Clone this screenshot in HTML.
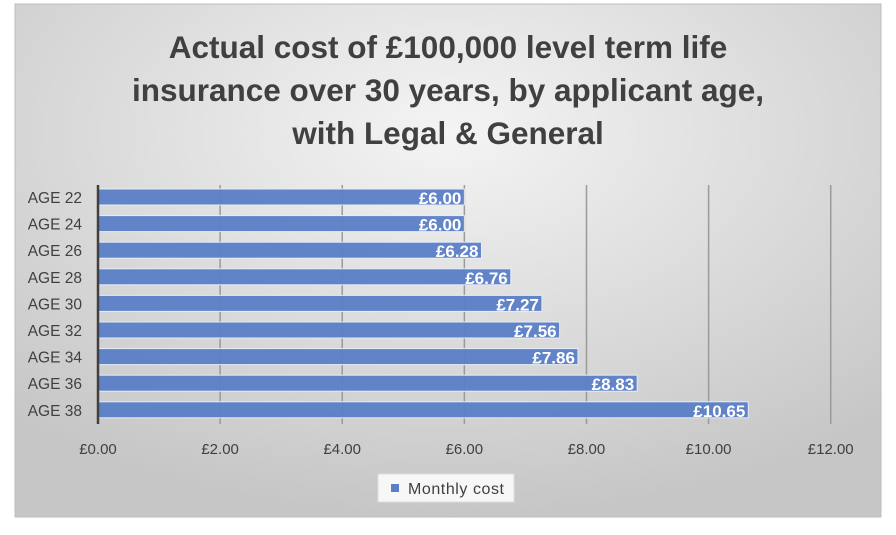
<!DOCTYPE html>
<html><head><meta charset="utf-8"><style>
body{margin:0;background:#fff;width:896px;height:530px;overflow:hidden}
svg text{font-family:"Liberation Sans",sans-serif}
</style></head><body>
<svg width="896" height="530">
<defs>
<radialGradient id="bg" cx="0.5" cy="0.25" r="0.75">
<stop offset="0" stop-color="#f4f4f4"/><stop offset="1" stop-color="#c6c6c6"/>
</radialGradient>
</defs>
<rect x="15" y="4" width="866" height="513" fill="url(#bg)" stroke="#bdbdbd"/>
<g font-weight="bold" font-size="31.5" fill="#404040" text-anchor="middle">
<text x="448" y="58">Actual cost of £100,000 level term life</text>
<text x="448" y="101">insurance over 30 years, by applicant age,</text>
<text x="448" y="144">with Legal &amp; General</text>
</g>
<g id="grid"></g><g id="bars"></g><g id="ylab"></g><g id="xlab"></g>
<line x1="98" y1="185" x2="98" y2="424" stroke="#404040" stroke-width="2.5"/>
<g>
<rect x="378" y="474" width="136" height="28" fill="#f7f7f7" stroke="#ddd"/>
<rect x="391" y="484" width="8" height="8" fill="#5b7fc7"/>
<text x="408" y="494" font-size="16" fill="#404040" textLength="96">Monthly cost</text>
</g>
</svg>
<script>
const categories=["AGE 22","AGE 24","AGE 26","AGE 28","AGE 30","AGE 32","AGE 34","AGE 36","AGE 38"];
const values=[6.00,6.00,6.28,6.76,7.27,7.56,7.86,8.83,10.65];
const ticks=[0,2,4,6,8,10,12];
const NS="http://www.w3.org/2000/svg";
const x0=98,xs=61.06,top0=185,step=26.6,bh=16;
const X=v=>x0+v*xs;
const Y=i=>top0+4+i*step;
function mk(t,a,p){const e=document.createElementNS(NS,t);for(const k in a)e.setAttribute(k,a[k]);p.appendChild(e);return e;}
const grid=document.getElementById('grid'),bars=document.getElementById('bars'),ylab=document.getElementById('ylab'),xlab=document.getElementById('xlab');
ticks.forEach(t=>{
 if(t>0){const l=mk('line',{x1:X(t),x2:X(t),y1:185,y2:424,stroke:'#9a9a9a','stroke-width':1.5},grid);
 
 }
 const tx=mk('text',{x:X(t),y:454,'font-size':15,fill:'#404040','text-anchor':'middle'},xlab);
 
 
 tx.textContent='£'+t.toFixed(2);
});
categories.forEach((c,i)=>{
 const r=mk('rect',{x:x0,y:Y(i),width:values[i]*xs,height:bh,fill:'#5b7fc7',stroke:'#e8eef8','stroke-width':1,opacity:0.95},bars);
 
 
 const v=mk('text',{x:X(values[i])-3,y:Y(i)+bh-1,'font-size':17,'font-weight':'bold',fill:'#fff','text-anchor':'end'},bars);
 
 
 v.textContent='£'+values[i].toFixed(2);
 const l=mk('text',{x:82,y:Y(i)+bh-2,'font-size':15.5,fill:'#404040','text-anchor':'end'},ylab);
 
 
 l.textContent=c;
});
</script>
</body></html>
